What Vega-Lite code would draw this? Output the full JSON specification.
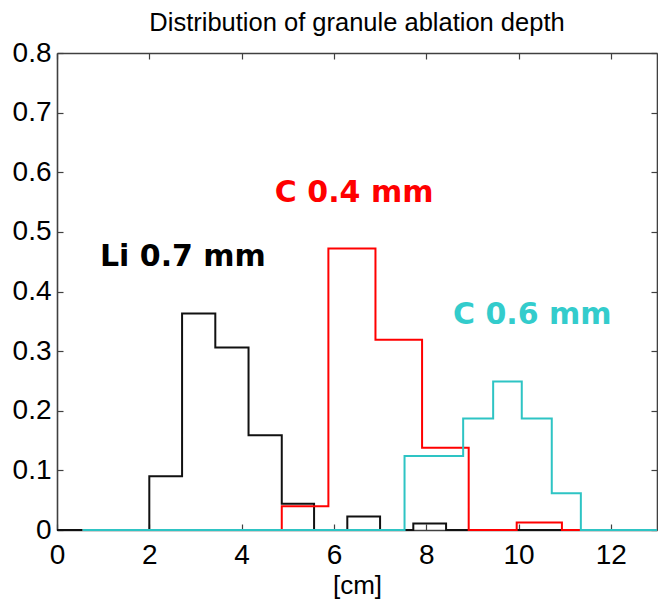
{
  "$schema": "https://vega.github.io/schema/vega-lite/v6.json",
  "width": 600,
  "height": 477,
  "autosize": {"type": "none"},
  "padding": {"left": 57, "top": 53, "right": 1, "bottom": 71},
  "config": {"view": {"stroke": null}, "font": "Liberation Sans"},
  "title": {
    "text": "Distribution of granule ablation depth",
    "font": "Liberation Sans",
    "fontSize": 25.5,
    "fontWeight": "normal",
    "color": "#000000",
    "baseline": "bottom",
    "frame": "group",
    "offset": -22,
    "anchor": "middle"
  },
  "datasets": {
    "hist": [
      {"s": "Li", "x": 0, "y": 0},
      {"s": "Li", "x": 2.0, "y": 0.090},
      {"s": "Li", "x": 2.71, "y": 0.363},
      {"s": "Li", "x": 3.43, "y": 0.306},
      {"s": "Li", "x": 4.15, "y": 0.159},
      {"s": "Li", "x": 4.87, "y": 0.044},
      {"s": "Li", "x": 5.57, "y": 0},
      {"s": "Li", "x": 6.29, "y": 0.0225},
      {"s": "Li", "x": 7.0, "y": 0},
      {"s": "Li", "x": 7.72, "y": 0.011},
      {"s": "Li", "x": 8.43, "y": 0},
      {"s": "Li", "x": 13, "y": 0},
      {"s": "C04", "x": 0.55, "y": 0},
      {"s": "C04", "x": 4.87, "y": 0.040},
      {"s": "C04", "x": 5.88, "y": 0.472},
      {"s": "C04", "x": 6.90, "y": 0.319},
      {"s": "C04", "x": 7.91, "y": 0.138},
      {"s": "C04", "x": 8.92, "y": 0},
      {"s": "C04", "x": 9.96, "y": 0.0124},
      {"s": "C04", "x": 10.94, "y": 0},
      {"s": "C04", "x": 13, "y": 0},
      {"s": "C06", "x": 0.55, "y": 0},
      {"s": "C06", "x": 7.53, "y": 0.124},
      {"s": "C06", "x": 8.80, "y": 0.187},
      {"s": "C06", "x": 9.45, "y": 0.249},
      {"s": "C06", "x": 10.07, "y": 0.187},
      {"s": "C06", "x": 10.72, "y": 0.0615},
      {"s": "C06", "x": 11.35, "y": 0},
      {"s": "C06", "x": 13, "y": 0}
    ],
    "labels": [
      {"s": "Li", "t": "Li 0.7 mm", "x": 0.93, "y": 0.4426},
      {"s": "C04", "t": "C 0.4 mm", "x": 4.72, "y": 0.55},
      {"s": "C06", "t": "C 0.6 mm", "x": 8.58, "y": 0.345}
    ]
  },
  "resolve": {"axis": {"x": "independent", "y": "independent"}},
  "layer": [
    {
      "data": {"name": "hist"},
      "transform": [{"filter": "datum.s === 'Li'"}],
      "mark": {"type": "line", "interpolate": "step-after", "color": "#111111", "strokeWidth": 2},
      "encoding": {
        "x": {
          "field": "x", "type": "quantitative",
          "scale": {"domain": [0, 13], "nice": false, "zero": false},
          "axis": {
            "orient": "bottom",
            "values": [0, 2, 4, 6, 8, 10, 12],
            "grid": false,
            "tickSize": -6,
            "tickColor": "#404040",
            "tickWidth": 1.2,
            "domainColor": "#404040",
            "domainWidth": 1.6,
            "labelFont": "Liberation Sans",
            "labelFontSize": 28,
            "labelColor": "#000000",
            "labelPadding": 17,
            "labelFlush": false,
            "labelOverlap": false,
            "format": "~g",
            "title": "[cm]",
            "titleFont": "Liberation Sans",
            "titleFontSize": 26,
            "titleFontWeight": "normal",
            "titleColor": "#000000",
            "titlePadding": 3
          }
        },
        "y": {
          "field": "y", "type": "quantitative",
          "scale": {"domain": [0, 0.8], "nice": false},
          "axis": {
            "orient": "left",
            "values": [0, 0.1, 0.2, 0.3, 0.4, 0.5, 0.6, 0.7, 0.8],
            "grid": false,
            "tickSize": -6,
            "tickColor": "#404040",
            "tickWidth": 1.2,
            "domainColor": "#404040",
            "domainWidth": 1.6,
            "labelFont": "Liberation Sans",
            "labelFontSize": 28,
            "labelColor": "#000000",
            "labelPadding": 12,
            "labelOverlap": false,
            "format": "~g",
            "title": null
          }
        }
      }
    },
    {
      "data": {"name": "hist"},
      "transform": [{"filter": "datum.s === 'C04'"}],
      "mark": {"type": "line", "interpolate": "step-after", "color": "#ff0000", "strokeWidth": 2},
      "encoding": {
        "x": {"field": "x", "type": "quantitative", "axis": null},
        "y": {"field": "y", "type": "quantitative", "axis": null}
      }
    },
    {
      "data": {"name": "hist"},
      "transform": [{"filter": "datum.s === 'C06'"}],
      "mark": {"type": "line", "interpolate": "step-after", "color": "#2ec4c4", "strokeWidth": 2},
      "encoding": {
        "x": {"field": "x", "type": "quantitative", "axis": null},
        "y": {"field": "y", "type": "quantitative", "axis": null}
      }
    },
    {
      "data": {"name": "labels"},
      "mark": {"type": "text", "align": "left", "baseline": "alphabetic", "font": "DejaVu Sans", "fontWeight": "bold", "fontSize": 30},
      "encoding": {
        "x": {"field": "x", "type": "quantitative", "axis": null},
        "y": {"field": "y", "type": "quantitative", "axis": null},
        "text": {"field": "t"},
        "color": {
          "field": "s", "type": "nominal", "legend": null,
          "scale": {"domain": ["Li", "C04", "C06"], "range": ["#000000", "#ff0000", "#33cccc"]}
        }
      }
    },
    {
      "data": {"name": "hist"},
      "mark": {"type": "point", "opacity": 0},
      "encoding": {
        "x": {
          "field": "x", "type": "quantitative",
          "axis": {
            "orient": "top",
            "values": [0, 2, 4, 6, 8, 10, 12],
            "grid": false,
            "labels": false,
            "tickSize": -6,
            "tickColor": "#404040",
            "tickWidth": 1.2,
            "domainColor": "#404040",
            "domainWidth": 1.6,
            "title": null
          }
        },
        "y": {
          "field": "y", "type": "quantitative",
          "axis": {
            "orient": "right",
            "values": [0, 0.1, 0.2, 0.3, 0.4, 0.5, 0.6, 0.7, 0.8],
            "grid": false,
            "labels": false,
            "tickSize": -6,
            "tickColor": "#404040",
            "tickWidth": 1.2,
            "domainColor": "#404040",
            "domainWidth": 1.6,
            "title": null
          }
        }
      }
    }
  ]
}
